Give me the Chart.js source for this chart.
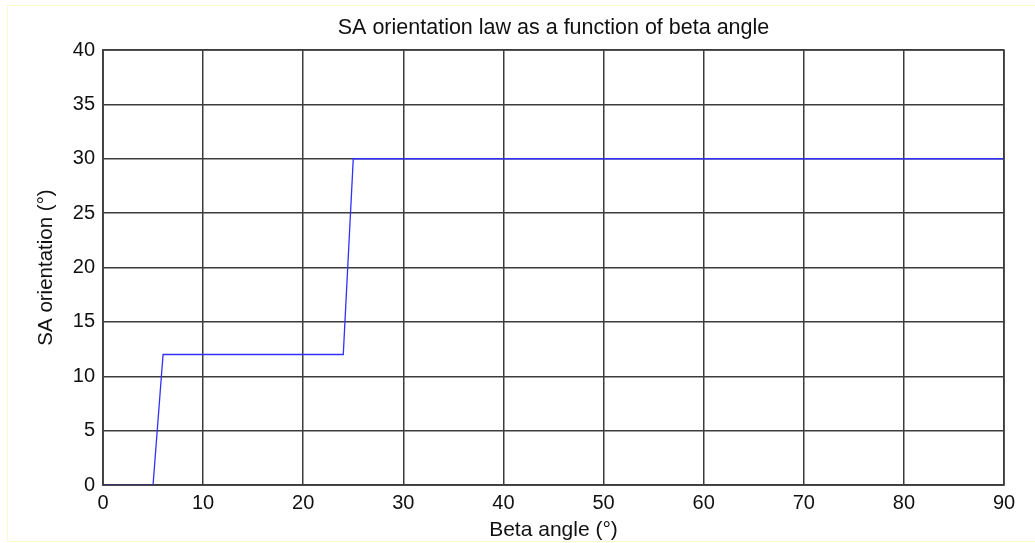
<!DOCTYPE html>
<html>
<head>
<meta charset="utf-8">
<script src="https://cdn.jsdelivr.net/npm/chart.js@4"></script>
<style>
    html, body { margin: 0; padding: 0; background: #fff; }
    #wrap { position: relative; width: 1035px; height: 543px; overflow: hidden; }
    #frame {
        position: absolute; left: 7px; top: 5px; width: 1040px; height: 535px;
        border-left: 1px solid #fefad0; border-top: 1px solid #fefad0; border-bottom: 1px solid #fefad0;
    }
    canvas { position: absolute; left: 0; top: 0; }
</style>
</head>
<body>
<div id="wrap">
    <div id="frame"></div>
    <canvas id="lawChart" width="1035" height="543"></canvas>
</div>
<script>
// 데이터: 베타 각도(°)와 SA 방향(°)
const betaAngle = [0, 5, 6, 24, 25, 90];
const saOrientation = [0, 0, 12, 12, 30, 30];

const xTicks = [0, 10, 20, 30, 40, 50, 60, 70, 80, 90];
const yTicks = [0, 5, 10, 15, 20, 25, 30, 35, 40];

const chartTitle = 'SA orientation law as a function of beta angle';
const xTitle = 'Beta angle (°)';
const yTitle = 'SA orientation (°)';

const FONT = "'Liberation Sans', Arial, sans-serif";
const gridColor = '#3c3c3c';

const points = betaAngle.map((b, i) => ({ x: b, y: saOrientation[i] }));

const ctx = document.getElementById('lawChart').getContext('2d');
new Chart(ctx, {
    type: 'line',
    data: {
        datasets: [{
            data: points,
            borderColor: '#3030ff',
            borderWidth: 1.3,
            pointRadius: 0,
            tension: 0,
            fill: false
        }]
    },
    options: {
        responsive: false,
        animation: false,
        layout: { padding: { left: 0, right: 31, top: 50, bottom: 0 } },
        plugins: {
            legend: { display: false },
            tooltip: { enabled: false },
            title: { display: false }
        },
        scales: {
            x: {
                type: 'linear',
                min: 0,
                max: 90,
                afterBuildTicks: axis => { axis.ticks = xTicks.map(v => ({ value: v })); },
                afterFit: axis => { axis.height = 58; },
                grid: { color: gridColor, lineWidth: 1.5, drawTicks: false },
                border: { color: gridColor, width: 1.5 },
                ticks: {
                    color: '#111',
                    font: { family: FONT, size: 20 },
                    padding: 6,
                    maxRotation: 0
                },
                title: {
                    display: true,
                    text: xTitle,
                    color: '#111',
                    font: { family: FONT, size: 21 },
                    padding: { top: 0, bottom: 0 }
                }
            },
            y: {
                type: 'linear',
                min: 0,
                max: 40,
                afterBuildTicks: axis => { axis.ticks = yTicks.map(v => ({ value: v })); },
                afterFit: axis => { axis.width = 103; },
                grid: { color: gridColor, lineWidth: 1.5, drawTicks: false },
                border: { color: gridColor, width: 1.5 },
                ticks: {
                    color: '#111',
                    font: { family: FONT, size: 20 },
                    padding: 8
                },
                title: {
                    display: true,
                    text: yTitle,
                    color: '#111',
                    font: { family: FONT, size: 20.5 },
                    padding: { top: 34, bottom: 0 }
                }
            }
        }
    },
    plugins: [{
        // 플롯 테두리와 제목 (플롯 영역 중앙 기준)
        id: 'boxFrame',
        afterDraw(chart) {
            const a = chart.chartArea;
            const c = chart.ctx;
            c.save();
            c.strokeStyle = gridColor;
            c.lineWidth = 1.5;
            c.strokeRect(a.left, a.top, a.right - a.left, a.bottom - a.top);
            c.fillStyle = '#111';
            c.font = '21.5px ' + FONT;
            c.textAlign = 'center';
            c.textBaseline = 'middle';
            c.fillText(chartTitle, (a.left + a.right) / 2, 28);
            c.restore();
        }
    }]
});
</script>
</body>
</html>
